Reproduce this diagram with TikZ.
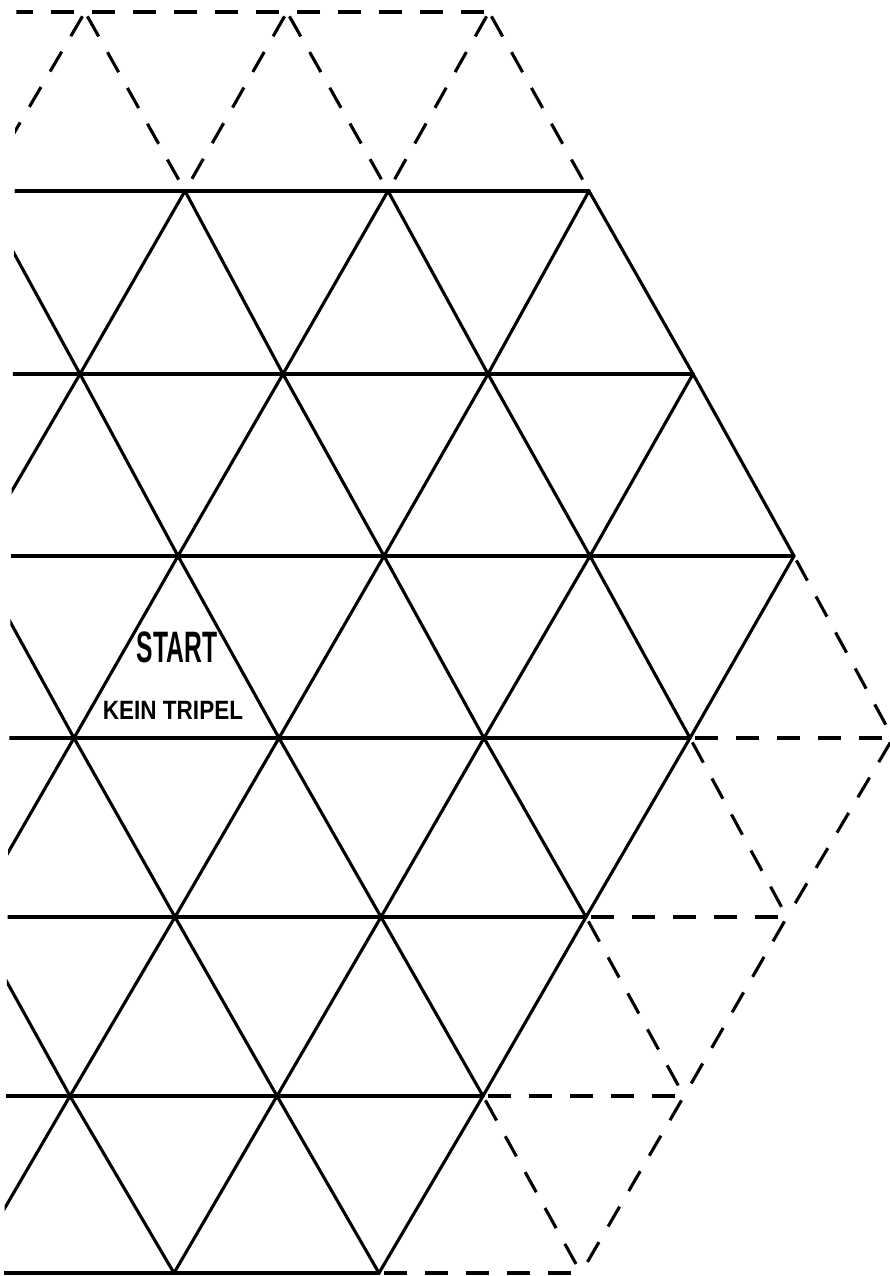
\documentclass[tikz,border=0pt]{standalone}
\usepackage{fontspec}
\setmainfont{Liberation Sans}
\begin{document}
\begin{tikzpicture}[x=1pt,y=-1pt,
  solidedge/.style={line width=3.1pt, line cap=round, line join=round},
  dashededge/.style={line width=3.1pt, line cap=butt, dash pattern=on 23pt off 18pt, dash phase=36pt},
  txt/.style={inner sep=0pt, text=black}]
\useasboundingbox (0,0) rectangle (889,1276);
\fill[white] (0,0) rectangle (889,1276);
% row 0 (dashed top)
\coordinate (aL) at (-117,12);
\coordinate (a0) at (85,12);
\coordinate (a1) at (287,12);
\coordinate (a2) at (489,12);
% row 1
\coordinate (bL) at (-20,191);
\coordinate (b0) at (185,191);
\coordinate (b1) at (388,191);
\coordinate (b2) at (589,191);
% row 2
\coordinate (cL) at (-125,374);
\coordinate (c0) at (80,374);
\coordinate (c1) at (283,374);
\coordinate (c2) at (488,374);
\coordinate (c3) at (693,374);
% row 3
\coordinate (dL) at (-26,556);
\coordinate (d0) at (178,556);
\coordinate (d1) at (384,556);
\coordinate (d2) at (590,556);
\coordinate (d3) at (794,556);
% row 4
\coordinate (eL) at (-130,738);
\coordinate (e0) at (74,738);
\coordinate (e1) at (279,738);
\coordinate (e2) at (484,738);
\coordinate (e3) at (690,738);
\coordinate (e4) at (893,738);
% row 5
\coordinate (fL) at (-29,917);
\coordinate (f0) at (175,917);
\coordinate (f1) at (381,917);
\coordinate (f2) at (586,917);
\coordinate (f3) at (787,917);
% row 6
\coordinate (gL) at (-135,1096);
\coordinate (g0) at (70,1096);
\coordinate (g1) at (277,1096);
\coordinate (g2) at (483,1096);
\coordinate (g3) at (684,1096);
% row 7
\coordinate (hL) at (-33,1273);
\coordinate (h0) at (174,1273);
\coordinate (h1) at (379,1273);
\coordinate (h2) at (581,1273);

\begin{scope}
\clip (16.5,-5) -- (4,1281) -- (895,1281) -- (895,-5) -- cycle;
% solid edges
\foreach \p/\q in {bL/b2, cL/c3, dL/d3, eL/e3, fL/f2, gL/g2, hL/h1,
  bL/c0, b0/c0, b0/c1, b1/c1, b1/c2, b2/c2, b2/c3,
  c0/dL, c0/d0, c1/d0, c1/d1, c2/d1, c2/d2, c3/d2, c3/d3,
  dL/e0, d0/e0, d0/e1, d1/e1, d1/e2, d2/e2, d2/e3, d3/e3,
  e0/fL, e0/f0, e1/f0, e1/f1, e2/f1, e2/f2, e3/f2,
  fL/g0, f0/g0, f0/g1, f1/g1, f1/g2, f2/g2,
  g0/hL, g0/h0, g1/h0, g1/h1, g2/h1}
  \draw[solidedge] (\p) -- (\q);
% dashed edges
\foreach \p/\q in {a2/aL, a0/bL, a0/b0, a1/b0, a1/b1, a2/b1, a2/b2,
  e3/e4, f2/f3, g2/g3, h1/h2,
  d3/e4, e3/f3, e4/f3, f2/g3, f3/g3, g2/h2, g3/h2}
  \draw[dashededge] (\p) -- (\q);
\end{scope}

\node[txt] (start) at (177,647) {\fontsize{44}{44}\selectfont\bfseries\scalebox{0.56}[1]{START}};
\node[txt] (kein) at (173,710) {\fontsize{26.5}{26.5}\selectfont\bfseries\scalebox{0.85}[1]{KEIN TRIPEL}};
\end{tikzpicture}
\end{document}
